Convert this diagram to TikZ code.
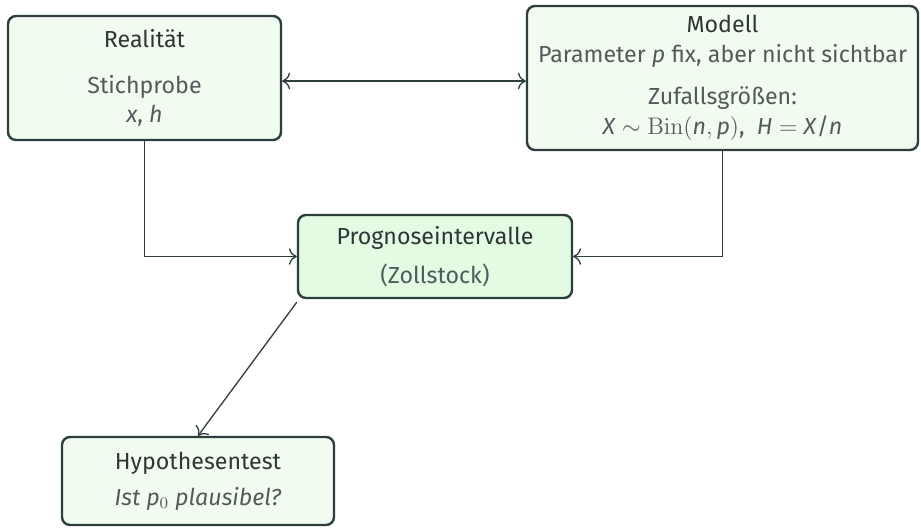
\documentclass[tikz,border=0pt]{standalone}
\usepackage[no-math]{fontspec}
\setmainfont{Fira Sans}
\usepackage{tikz}
\usetikzlibrary{arrows.meta, positioning}
\usepackage{amsmath}
\definecolor{boxLine}{HTML}{2E3D3D}
\definecolor{boxFill}{HTML}{F0FCF0}
\definecolor{boxFillHi}{HTML}{E2FBE2}
\definecolor{textDark}{HTML}{2F3535}
\definecolor{textBody}{HTML}{505B5B}
\definecolor{arrowCol}{HTML}{2E3D3D}
\tikzset{
  boxM/.style={rectangle, rounded corners=4pt, draw=boxLine, fill=boxFill,
               line width=1.2pt, align=center, text=textBody, inner sep=0pt},
  boxHi/.style={boxM, fill=boxFillHi},
  arrowM/.style={-{To[scale=1.3]}, arrowCol, line width=0.65pt},
}
\newcommand{\ttl}[1]{{\color{textDark}#1}}
\newcommand{\itv}[1]{\textit{#1}}

\begin{document}
\begin{tikzpicture}[x=0.5pt, y=-0.5pt, font=\fontsize{11.6}{14}\selectfont]
    \useasboundingbox (0,0) rectangle (921,527);

    % Realitaet und Modell
    \node[boxM, minimum width=136.5pt, minimum height=62pt] (real) at (144.5,78)
         {\ttl{Realität}\\[9pt] Stichprobe\\[0.5pt] \itv{x}, \itv{h}};
    \node[boxM, minimum width=195.5pt, minimum height=72pt] (mod) at (722.5,78)
         {\ttl{Modell}\\[1pt] Parameter \itv{p} fix, aber nicht sichtbar\\[7pt]
          Zufallsgrößen:\\[1pt]
          \itv{X}\;$\sim$\;$\mathrm{Bin}($\itv{n}$,$\,\itv{p}$)$,\ \ \itv{H}\;$=$\;\itv{X}/\itv{n}};
    \draw[arrowM, {To[scale=1.3]}-{To[scale=1.3]}] ([yshift=-1.5pt]real.east) -- ([yshift=-1.5pt]mod.west);

    % Prognoseintervalle
    \node[boxHi, minimum width=137pt, minimum height=41.5pt] (prog) at (435,256.5)
         {\ttl{Prognoseintervalle}\\[5.5pt] (Zollstock)};
    \draw[arrowM] (real.south) |- (prog.west);
    \draw[arrowM] (mod.south) |- (prog.east);

    % Hypothesentest
    \node[boxM, minimum width=136pt, minimum height=44pt] (hyp) at (198,481)
         {\ttl{Hypothesentest}\\[4pt] \itv{Ist p$_0$ plausibel?}};
    \draw[arrowM] ([yshift=-1.5pt]prog.south west) -- (hyp.north);
\end{tikzpicture}
\end{document}
